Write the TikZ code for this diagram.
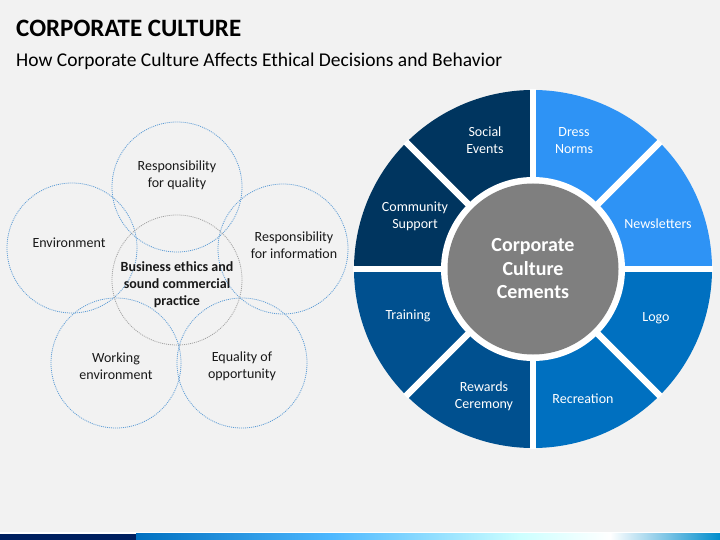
\documentclass[tikz,border=0pt]{standalone}
\usepackage{fontspec}
\setmainfont{Carlito}
\usepackage{tikz}
\usetikzlibrary{calc}

\definecolor{slidebg}{HTML}{F2F2F2}
\definecolor{navyseg}{HTML}{00355F}
\definecolor{midseg}{HTML}{00508F}
\definecolor{blueseg}{HTML}{0070C0}
\definecolor{lightseg}{HTML}{2E93F5}
\definecolor{hubgray}{HTML}{7F7F7F}
\definecolor{dotblue}{HTML}{5B9BD5}
\definecolor{dotgray}{HTML}{A0A0A0}
\definecolor{barnavy}{HTML}{002060}

\tikzset{
  ethic/.style={draw=dotblue, line width=0.8pt, dash pattern=on 1pt off 1pt},
  ethiccore/.style={draw=dotgray, line width=0.8pt, dash pattern=on 1pt off 1pt},
  ethiclabel/.style={align=center, font=\fontsize{14}{17}\selectfont, text=black!90},
  seglabel/.style={align=center, font=\fontsize{14}{17}\selectfont, text=white},
}

\begin{document}
\begin{tikzpicture}[x=1pt, y=-1pt]

      \fill[slidebg] (0,0) rectangle (720,540);
      \useasboundingbox (0,0) rectangle (720,540);

      \node[anchor=base west, inner sep=0pt, font=\fontsize{25}{29}\selectfont\bfseries] (title) at (16,37) {CORPORATE CULTURE};
      \node[anchor=base west, inner sep=0pt, font=\fontsize{19.5}{24}\selectfont] (subtitle) at (16,67) {How Corporate Culture Affects Ethical Decisions and Behavior};

      \coordinate (Q) at (177,187);
      \coordinate (E) at (72,248);
      \coordinate (I) at (283,249);
      \coordinate (B) at (177,280);
      \coordinate (W) at (116,363);
      \coordinate (O) at (242,363);

      \draw[ethic] (Q) circle[radius=65];
      \draw[ethic] (E) circle[radius=65];
      \draw[ethic] (I) circle[radius=65];
      \draw[ethic] (W) circle[radius=65];
      \draw[ethic] (O) circle[radius=65];
      \draw[ethiccore] (B) circle[radius=65];

      \node[ethiclabel] (quality) at (177,175.5) {Responsibility\\for quality};
      \node[ethiclabel] (environment) at (69,243) {Environment};
      \node[ethiclabel] (information) at (294,245.5) {Responsibility\\for information};
      \node[ethiclabel, font=\fontsize{14}{17}\selectfont\bfseries] (ethics) at (177,285) {Business ethics and\\sound commercial\\practice};
      \node[ethiclabel] (working) at (116,366.5) {Working\\environment};
      \node[ethiclabel] (equality) at (242,366.5) {Equality of\\opportunity};

      \begin{scope}[shift={(533,269)}, y=1pt]
        \foreach \a/\col in {0/lightseg, 45/lightseg, 90/navyseg, 135/navyseg, 180/midseg, 225/midseg, 270/blueseg, 315/blueseg}
          \fill[\col] (\a:179) arc[start angle=\a, end angle=\a+45, radius=179]
                -- (\a+45:88) arc[start angle=\a+45, end angle=\a, radius=88] -- cycle;
        \foreach \a in {0,45,...,315}
          \draw[white, line width=6.5pt] (0,0) -- (\a:180);
        \fill[white] (0,0) circle[radius=92];
        \fill[hubgray] (0,0) circle[radius=85.5];
      \end{scope}

      \node[seglabel] (social) at (485,140.5) {Social\\Events};
      \node[seglabel] (dress) at (574,140.5) {Dress\\Norms};
      \node[seglabel] (community) at (415,216.5) {Community\\Support};
      \node[seglabel] (newsletters) at (658,224) {Newsletters};
      \node[seglabel] (training) at (408,316) {Training};
      \node[seglabel] (logo) at (656,318) {Logo};
      \node[seglabel] (rewards) at (484,396.5) {Rewards\\Ceremony};
      \node[seglabel] (recreation) at (583,399) {Recreation};
      \node[align=center, text=white, font=\fontsize{20}{23.5}\selectfont\bfseries] (hub) at (533,269) {Corporate\\Culture\\Cements};

      \fill[white] (0,532) rectangle (720,533.5);
      \fill[barnavy] (0,533.5) rectangle (136,540);
      \shade[left color=blueseg, right color=cyan!60!blue!70!white] (136,533.5) rectangle (330,540);
      \shade[left color=cyan!60!blue!70!white, right color=cyan!20!white] (330,533.5) rectangle (520,540);
      \shade[left color=cyan!20!white, right color=white] (520,533.5) rectangle (610,540);
      \shade[left color=white, right color=blueseg!80!cyan] (610,533.5) rectangle (720,540);

    \end{tikzpicture}
\end{document}
